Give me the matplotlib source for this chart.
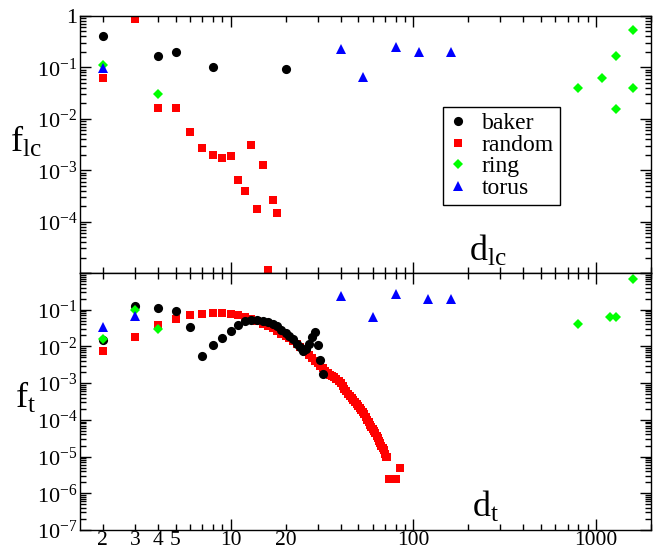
import matplotlib
matplotlib.use("Agg")
import matplotlib.pyplot as plt
from matplotlib.ticker import LogLocator, FuncFormatter, NullFormatter

plt.rcParams["font.family"] = "serif"
plt.rcParams["font.serif"] = ["Liberation Serif", "DejaVu Serif"]
plt.rcParams["mathtext.fontset"] = "custom"
plt.rcParams["mathtext.rm"] = "Liberation Serif"
plt.rcParams["mathtext.it"] = "Liberation Serif:italic"

# ---- datos panel superior (f_lc vs d_lc) ----
baker_lc_d = [2, 4, 5, 8, 20]
baker_lc_f = [0.40, 0.17, 0.20, 0.10, 0.093]

random_lc_d = [2, 3, 4, 5, 6, 7, 8, 9, 10, 11, 12, 13, 14, 15, 16, 17, 18]
random_lc_f = [0.061, 0.88, 0.016, 0.0165, 0.0056, 0.0027, 0.00195, 0.00175, 0.0019,
               0.00065, 0.0004, 0.0031, 0.000173, 0.00128, 1.15e-5, 0.00026, 0.000148]

ring_lc_d = [2, 4, 800, 1080, 1290, 1290, 1600, 1600]
ring_lc_f = [0.113, 0.031, 0.039, 0.0625, 0.169, 0.0155, 0.54, 0.039]

torus_lc_d = [2, 40, 53, 80, 107, 161]
torus_lc_f = [0.097, 0.23, 0.065, 0.255, 0.195, 0.195]

# ---- datos panel inferior (f_t vs d_t) ----
baker_t_d = list(range(2, 33))
baker_t_f = [0.015, 0.128, 0.109, 0.094, 0.034, 0.0054, 0.0107, 0.0173, 0.027, 0.038,
             0.048, 0.054, 0.053, 0.050, 0.047, 0.042, 0.035, 0.028, 0.023, 0.019,
             0.0155, 0.012, 0.0094, 0.0076, 0.0085, 0.012, 0.018, 0.024, 0.011, 0.0043,
             0.0018]

random_t_d = list(range(2, 73)) + [74, 75, 77, 78, 80, 85]
random_t_f = [0.0075, 0.018, 0.038, 0.056, 0.072, 0.078, 0.080, 0.079, 0.076, 0.071,
              0.064, 0.056, 0.048, 0.042, 0.036, 0.031, 0.026, 0.022, 0.019, 0.0165,
              0.014, 0.012, 0.0098, 0.0083, 0.007, 0.0057, 0.0048, 0.0041, 0.0035, 0.003,
              0.0026, 0.0022, 0.0019, 0.0017, 0.0016, 0.0015, 0.0013, 0.00115, 0.001, 0.00085,
              0.0007, 0.0006, 0.00052, 0.00046, 0.0004, 0.00035, 0.0003, 0.00027, 0.00024, 0.00021,
              0.00018, 0.00016, 0.00014, 0.00012, 0.0001, 8.6e-5, 7.4e-5, 6.4e-5, 5.5e-5, 4.9e-5,
              4.3e-5, 3.7e-5, 3.2e-5, 2.7e-5, 2.3e-5, 2e-5, 1.7e-5, 1.5e-5, 1.2e-5, 1e-5,
              1e-5,
              2.4e-6, 2.4e-6, 2.4e-6, 2.4e-6, 2.4e-6, 4.9e-6]

ring_t_d = [2, 3, 4, 800, 1200, 1290, 1600]
ring_t_f = [0.0156, 0.098, 0.030, 0.040, 0.062, 0.062, 0.69]

torus_t_d = [2, 3, 40, 60, 80, 120, 160]
torus_t_f = [0.033, 0.066, 0.24, 0.064, 0.26, 0.196, 0.196]

x_labels = {2: "2", 3: "3", 4: "4", 5: "5", 10: "10", 20: "20", 100: "100", 1000: "1000"}

W, H = 662, 552
fig = plt.figure(figsize=(W / 100, H / 100), dpi=100)
left, right = 80 / W, 651 / W
ax1 = fig.add_axes([left, 1 - 273 / H, right - left, 257 / H])
ax2 = fig.add_axes([left, 1 - 530 / H, right - left, 257 / H])

estilos = {
    "baker": dict(marker="o", color="black", ms=6.6),
    "random": dict(marker="s", color="red", ms=5.8),
    "ring": dict(marker="D", color="#00ff00", ms=4.8),
    "torus": dict(marker="^", color="blue", ms=6.8),
}


def dibujar(ax, datos):
    h = {}
    for nombre in ["random", "baker", "ring", "torus"]:
        d, f = datos[nombre]
        h[nombre], = ax.plot(d, f, ls="none", mew=0, label=nombre, **estilos[nombre])
    return h


h = dibujar(ax1, {"baker": (baker_lc_d, baker_lc_f), "random": (random_lc_d, random_lc_f),
                  "ring": (ring_lc_d, ring_lc_f), "torus": (torus_lc_d, torus_lc_f)})
dibujar(ax2, {"baker": (baker_t_d, baker_t_f), "random": (random_t_d, random_t_f),
              "ring": (ring_t_d, ring_t_f), "torus": (torus_t_d, torus_t_f)})


def fmt_x(v, pos):
    for k, s in x_labels.items():
        if abs(v - k) < 1e-6 * k:
            return s
    return ""


def fmt_y(visibles):
    def f(v, pos):
        for e in visibles:
            if abs(v - 10.0 ** e) < 1e-6 * 10.0 ** e:
                return "1" if e == 0 else r"$10^{%d}$" % e
        return ""
    return f


for ax, ylim, vis in [(ax1, (1e-5, 1), range(0, -5, -1)), (ax2, (1e-7, 1), range(-1, -8, -1))]:
    ax.set_xscale("log")
    ax.set_yscale("log")
    ax.set_xlim(1.5, 2000)
    ax.set_ylim(*ylim)
    ax.xaxis.set_major_locator(LogLocator(base=10, numticks=10))
    ax.xaxis.set_minor_locator(LogLocator(base=10, subs=range(2, 10), numticks=20))
    ax.yaxis.set_major_locator(LogLocator(base=10, numticks=20))
    ax.yaxis.set_minor_locator(LogLocator(base=10, subs=range(2, 10), numticks=20))
    ax.yaxis.set_major_formatter(FuncFormatter(fmt_y(list(vis))))
    ax.yaxis.set_minor_formatter(NullFormatter())
    ax.tick_params(which="both", direction="in", top=True, right=True, labelsize=16, width=1)
    ax.tick_params(which="major", length=8)
    ax.tick_params(which="minor", length=4)
    ax.tick_params(axis="y", pad=2)
    for s in ax.spines.values():
        s.set_linewidth(1.0)

ax1.xaxis.set_major_formatter(NullFormatter())
ax1.xaxis.set_minor_formatter(NullFormatter())
ax2.xaxis.set_major_formatter(FuncFormatter(fmt_x))
ax2.xaxis.set_minor_formatter(FuncFormatter(fmt_x))
ax2.tick_params(axis="x", which="both", pad=1, labelsize=15.5)

# etiquetas de los ejes
fig.text(26 / W, 1 - 142 / H, r"$\mathrm{f}_{\mathrm{lc}}$", fontsize=26, ha="center", va="center")
fig.text(488 / W, 1 - 251 / H, r"$\mathrm{d}_{\mathrm{lc}}$", fontsize=26, ha="center", va="center")
fig.text(26 / W, 1 - 398 / H, r"$\mathrm{f}_{\mathrm{t}}$", fontsize=26, ha="center", va="center")
fig.text(486 / W, 1 - 507 / H, r"$\mathrm{d}_{\mathrm{t}}$", fontsize=26, ha="center", va="center")

leg = ax1.legend([h["baker"], h["random"], h["ring"], h["torus"]],
                 ["baker", "random", "ring", "torus"],
                 loc="upper left", bbox_to_anchor=(443 / W, 1 - 107 / H),
                 bbox_transform=fig.transFigure, borderaxespad=0, fontsize=17,
                 fancybox=False, framealpha=1, edgecolor="black", handlelength=0.8,
                 handletextpad=0.6, labelspacing=0.0, borderpad=0.25)
leg.get_frame().set_linewidth(1.0)

fig.savefig("out.png", dpi=100)
